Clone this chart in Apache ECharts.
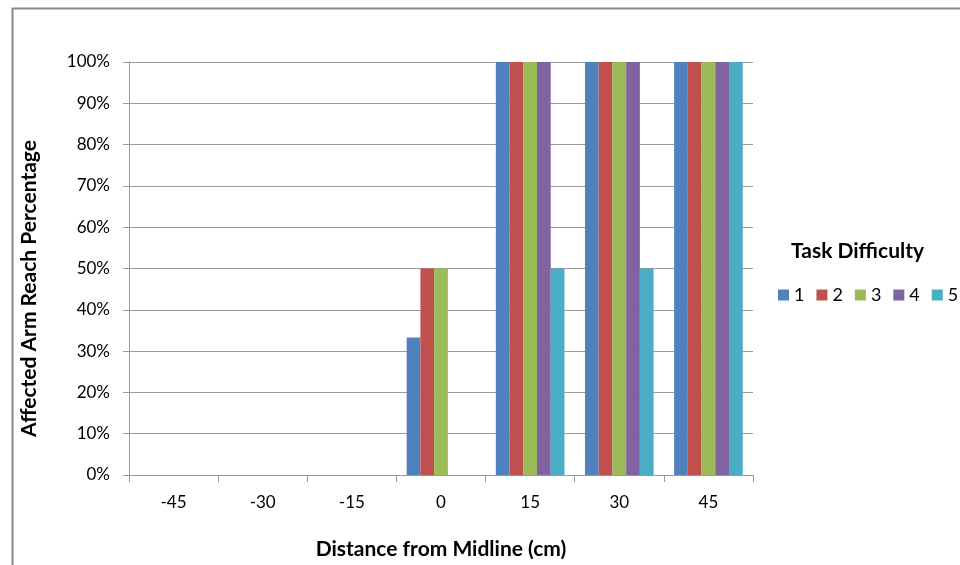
<!DOCTYPE html>
<html>
<head>
<meta charset="utf-8">
<script src="https://cdn.jsdelivr.net/npm/echarts@6/dist/echarts.min.js"></script>
<style>
  html, body { margin: 0; padding: 0; background: #fff; }
  #chart { width: 960px; height: 565px; }
</style>
</head>
<body>
<div id="chart"></div>
<script>
// distance categories (cm)
var categories = ['-45', '-30', '-15', '0', '15', '30', '45'];
var seriesNames = ['1', '2', '3', '4', '5'];
// percentage of reach, per task difficulty
var diff1 = [0, 0, 0, 33.3, 100, 100, 100];
var diff2 = [0, 0, 0, 50, 100, 100, 100];
var diff3 = [0, 0, 0, 50, 100, 100, 100];
var diff4 = [0, 0, 0, 0, 100, 100, 100];
var diff5 = [0, 0, 0, 0, 50, 50, 100];
var colors = ['#4F81BD', '#C0504D', '#9BBB59', '#8064A2', '#4BACC6'];

var font = 'Lato, Carlito, "Open Sans", sans-serif';
var chart = echarts.init(document.getElementById('chart'));

var allData = [diff1, diff2, diff3, diff4, diff5];
var series = allData.map(function (d, i) {
  return {
    name: seriesNames[i],
    type: 'bar',
    data: d,
    barGap: '0%',
    barCategoryGap: '23%',
    itemStyle: { color: colors[i] }
  };
});

chart.setOption({
  animation: false,
  color: colors,
  textStyle: { fontFamily: font },
  graphic: [{
    type: 'rect',
    left: 10, top: 6,
    shape: { width: 1000, height: 1000 },
    style: { fill: 'none', stroke: '#8a8a8a', lineWidth: 2 },
    silent: true
  }],
  title: {
    text: 'Task Difficulty',
    left: 786,
    top: 236,
    textStyle: { fontFamily: font, fontSize: 21, fontWeight: 'bold', color: '#000' }
  },
  legend: {
    data: seriesNames,
    left: 773,
    top: 281,
    width: 200,
    orient: 'horizontal',
    itemWidth: 11,
    itemHeight: 11,
    itemGap: 12,
    icon: 'rect',
    textStyle: { fontFamily: font, fontSize: 18, color: '#000' }
  },
  grid: { left: 129, right: 207, top: 62, bottom: 90, containLabel: false },
  xAxis: {
    type: 'category',
    data: categories,
    name: 'Distance from Midline (cm)',
    nameLocation: 'middle',
    nameGap: 64,
    nameTextStyle: { fontFamily: font, fontSize: 21, fontWeight: 'bold', color: '#000' },
    axisLine: { lineStyle: { color: '#9a9a9a', width: 1 } },
    axisTick: { show: true, length: 7, lineStyle: { color: '#9a9a9a' } },
    axisLabel: { fontFamily: font, fontSize: 17, color: '#000', margin: 19 }
  },
  yAxis: {
    type: 'value',
    min: 0, max: 100, interval: 10,
    name: 'Affected Arm Reach Percentage',
    nameLocation: 'middle',
    nameGap: 89,
    nameTextStyle: { fontFamily: font, fontSize: 21, fontWeight: 'bold', color: '#000', padding: [0, 40, 0, 0] },
    axisLine: { show: true, lineStyle: { color: '#9a9a9a', width: 1 } },
    axisTick: { show: true, length: 6, lineStyle: { color: '#9a9a9a' } },
    axisLabel: { fontFamily: font, fontSize: 17, color: '#000', margin: 19, formatter: '{value}%' },
    splitLine: { lineStyle: { color: '#9a9a9a', width: 1 } }
  },
  series: series
});
</script>
</body>
</html>
